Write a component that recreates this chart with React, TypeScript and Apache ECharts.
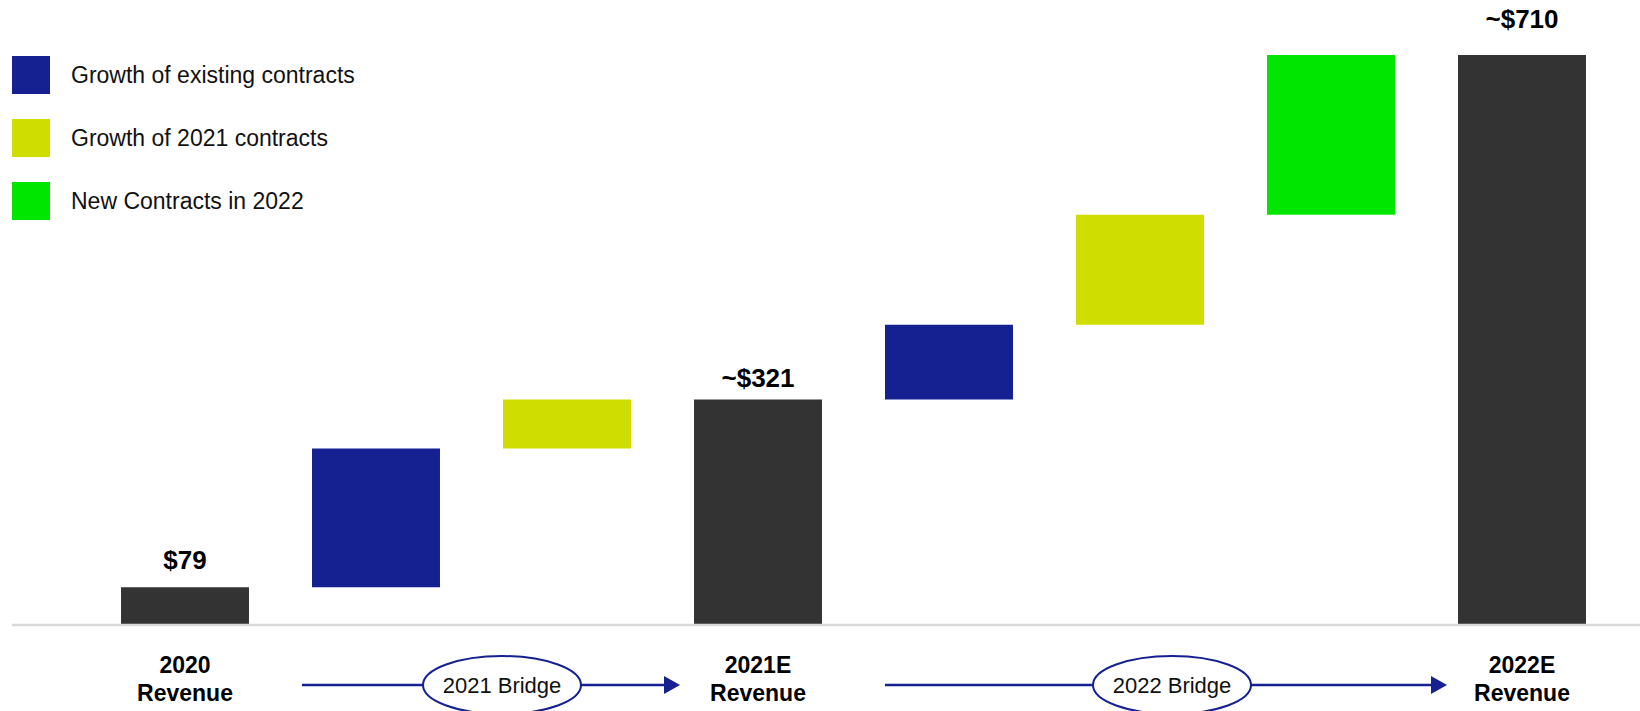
import React, { useEffect, useRef } from "react";
import * as echarts from "echarts";

// Categories (one bar each)
const categories = ["2020", "2021 existing", "2021 new", "2021E", "2022 existing", "2022 from 2021", "2022 new", "2022E"];
const tickLabels = ["2020\nRevenue", "", "", "2021E\nRevenue", "", "", "", "2022E\nRevenue"];
// Bar heights as drawn in the picture (chart not to scale)
const totals = [47, "-", "-", 281, "-", "-", "-", 710];
const totalLabels = ["$79", "", "", "~$321", "", "", "", "~$710"];
const baseValues = ["-", 47, 220, "-", 281, 374, 511, "-"];
const existingGrowth = ["-", 173, "-", "-", 93, "-", "-", "-"];
const growth2021 = ["-", "-", 61, "-", "-", 137, "-", "-"];
const newContracts = ["-", "-", "-", "-", "-", "-", 199, "-"];
const labelGaps = [14, 0, 0, 8, 0, 0, 0, 23];
const legendNames = ["Growth of existing contracts", "Growth of 2021 contracts", "New Contracts in 2022"];
const bridges = ["2021 Bridge", "2022 Bridge"];

const FONT = "'Liberation Sans', Arial, sans-serif";
const DARK = "#333333";
const BLUE = "#152091";
const YELLOW = "#cfdd00";
const GREEN = "#00e600";

export default function App() {
  const ref = useRef<HTMLDivElement>(null);
  useEffect(() => {
    if (!ref.current) return;
    const chart = echarts.init(ref.current, null, { renderer: "svg" });
    const arrowSeg = (x1: number, x2: number, cx: number, name: string, y: number) => [
      { type: "line", z: 10, shape: { x1, y1: y, x2: x2 - 14, y2: y }, style: { stroke: BLUE, lineWidth: 2.5 } },
      { type: "polygon", z: 10, shape: { points: [[x2 - 16, y - 9], [x2, y], [x2 - 16, y + 9]] }, style: { fill: BLUE } },
      { type: "ellipse", z: 11, shape: { cx, cy: y, rx: 79, ry: 29 }, style: { fill: "#fff", stroke: BLUE, lineWidth: 2 } },
      {
        type: "text", z: 12, x: cx, y,
        style: { text: name, fill: "#111", font: `22px ${FONT}`, align: "center", verticalAlign: "middle" },
      },
    ];
    chart.setOption({
      animation: false,
      textStyle: { fontFamily: FONT },
      grid: { left: 89.5, right: 22.5, top: 55, bottom: 86, containLabel: false },
      legend: {
        data: legendNames,
        orient: "vertical",
        left: 12,
        top: 56,
        padding: 0,
        itemWidth: 38,
        itemHeight: 38,
        itemGap: 25,
        icon: "rect",
        selectedMode: false,
        textStyle: { fontSize: 23, color: "#111", fontFamily: FONT, padding: [0, 0, 0, 16] },
      },
      xAxis: {
        type: "category",
        data: categories,
        axisLine: { show: false },
        axisTick: { show: false },
        axisLabel: {
          interval: 0,
          margin: 26,
          fontSize: 23,
          fontWeight: "bold",
          color: "#000",
          lineHeight: 28,
          fontFamily: FONT,
          formatter: (_v: string, i: number) => tickLabels[i],
        },
      },
      yAxis: { type: "value", min: 0, max: 710, show: false, splitLine: { show: false } },
      series: [
        {
          name: "base", type: "bar", stack: "s", barWidth: "67%",
          data: baseValues, itemStyle: { color: "transparent" }, silent: true,
        },
        {
          name: "Revenue", type: "bar", stack: "s", barWidth: "67%",
          data: totals.map((v, i) => ({
            value: v,
            label: {
              show: v !== "-", position: "top", distance: labelGaps[i],
              formatter: totalLabels[i], fontSize: 26, fontWeight: "bold", color: "#000", fontFamily: FONT,
            },
          })),
          itemStyle: { color: DARK },
        },
        { name: legendNames[0], type: "bar", stack: "s", barWidth: "67%", data: existingGrowth, itemStyle: { color: BLUE } },
        { name: legendNames[1], type: "bar", stack: "s", barWidth: "67%", data: growth2021, itemStyle: { color: YELLOW } },
        { name: legendNames[2], type: "bar", stack: "s", barWidth: "67%", data: newContracts, itemStyle: { color: GREEN } },
      ],
      graphic: [
        { type: "line", z: 5, shape: { x1: 12, y1: 625, x2: 1640, y2: 625 }, style: { stroke: "#d9d9d9", lineWidth: 2.5 } },
        ...arrowSeg(302, 680, 502, bridges[0], 685),
        ...arrowSeg(885, 1447, 1172, bridges[1], 685),
      ],
    });
    return () => chart.dispose();
  }, []);
  return (
    <div
      ref={ref}
      style={{ position: "fixed", left: 0, top: 0, width: 1640, height: 711, background: "#fff" }}
    />
  );
}
